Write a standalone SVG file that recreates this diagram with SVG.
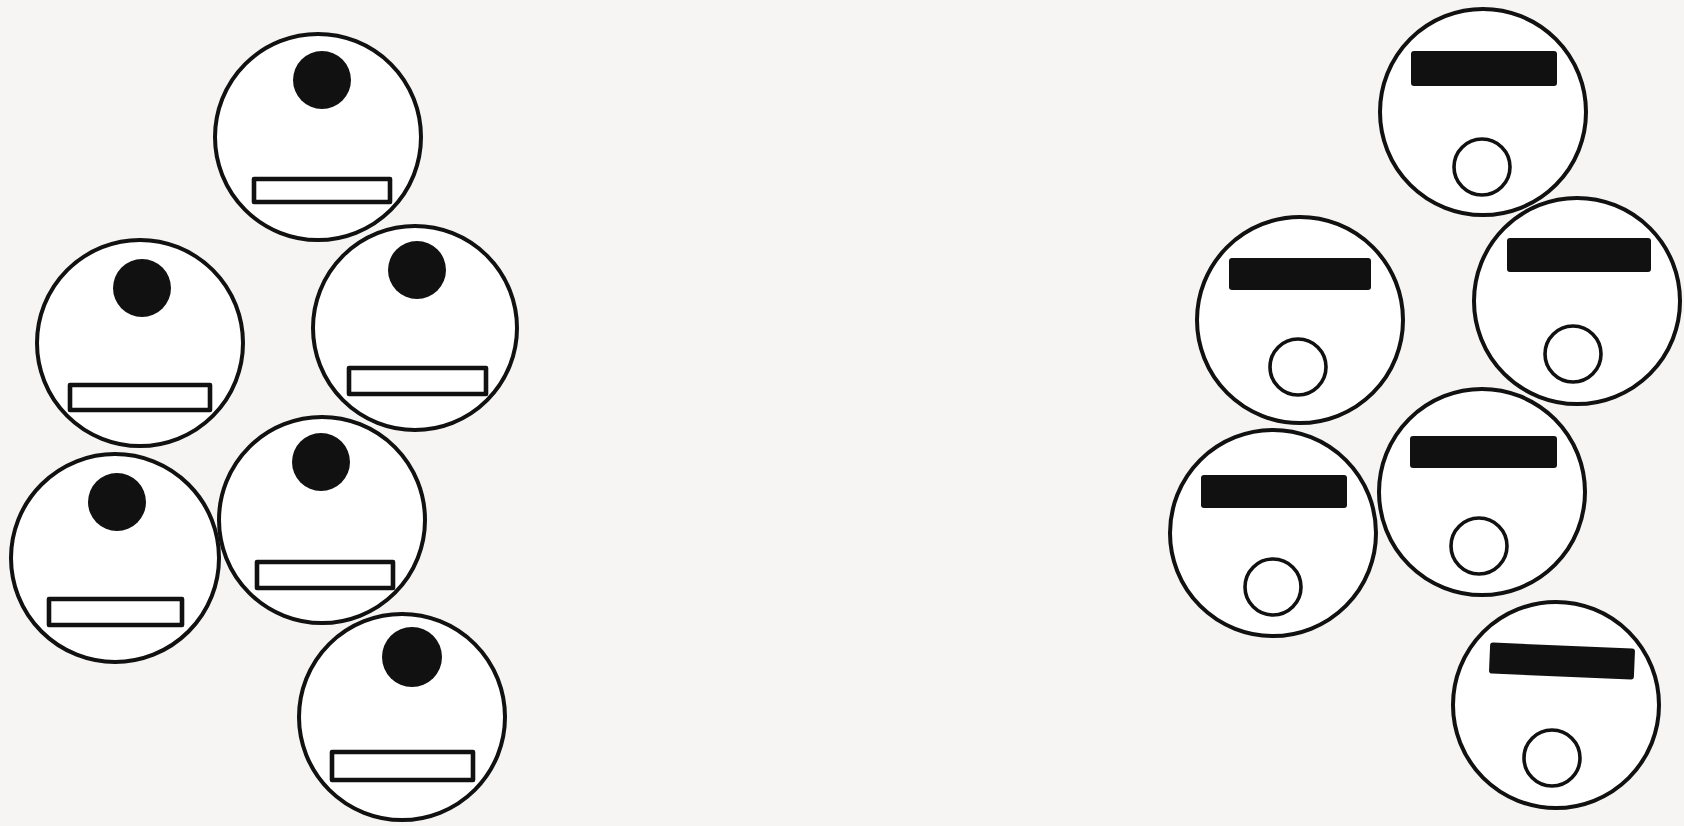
<svg xmlns="http://www.w3.org/2000/svg" width="1684" height="826" viewBox="0 0 1684 826">
<style>
.bg{fill:#f6f5f3}
.cell{fill:#fff;stroke:#111;stroke-width:4}
.dot{fill:#111}
.slot{fill:#fff;stroke:#111;stroke-width:4.6;stroke-linejoin:round}
.bar{fill:#111}
.ring{fill:#fff;stroke:#111;stroke-width:3.6}
</style>
<rect class="bg" x="0" y="0" width="1684" height="826"/>
<g id="left-group">
<g id="L1"><circle class="cell" cx="318" cy="137" r="103"/><circle class="dot" cx="322" cy="80" r="29"/><rect class="slot" x="254" y="179" width="136" height="23"/></g>
<g id="L2"><circle class="cell" cx="140" cy="343" r="103"/><circle class="dot" cx="142" cy="288" r="29"/><rect class="slot" x="70" y="385" width="140" height="25"/></g>
<g id="L3"><circle class="cell" cx="415" cy="328" r="102"/><circle class="dot" cx="417" cy="270" r="29"/><rect class="slot" x="349" y="368" width="137" height="26"/></g>
<g id="L4"><circle class="cell" cx="115" cy="558" r="104"/><circle class="dot" cx="117" cy="502" r="29"/><rect class="slot" x="49" y="599" width="133" height="26"/></g>
<g id="L5"><circle class="cell" cx="322" cy="520" r="103"/><circle class="dot" cx="321" cy="462" r="29"/><rect class="slot" x="257" y="562" width="136" height="26"/></g>
<g id="L6"><circle class="cell" cx="402" cy="717" r="103"/><circle class="dot" cx="412" cy="657" r="30"/><rect class="slot" x="332" y="752" width="141" height="28"/></g>
</g>
<g id="right-group">
<g id="R1"><circle class="cell" cx="1483" cy="112" r="103"/><rect class="bar" x="1411" y="51" width="146" height="35" rx="3"/><circle class="ring" cx="1482" cy="167" r="28"/></g>
<g id="R2"><circle class="cell" cx="1300" cy="320" r="103"/><rect class="bar" x="1229" y="258" width="142" height="32" rx="3"/><circle class="ring" cx="1298" cy="367" r="28"/></g>
<g id="R3"><circle class="cell" cx="1577" cy="301" r="103"/><rect class="bar" x="1507" y="238" width="144" height="34" rx="3"/><circle class="ring" cx="1573" cy="354" r="28"/></g>
<g id="R4"><circle class="cell" cx="1273" cy="533" r="103"/><rect class="bar" x="1201" y="475" width="146" height="33" rx="3"/><circle class="ring" cx="1273" cy="587" r="28"/></g>
<g id="R5"><circle class="cell" cx="1482" cy="492" r="103"/><rect class="bar" x="1410" y="436" width="147" height="32" rx="3"/><circle class="ring" cx="1479" cy="546" r="28"/></g>
<g id="R6"><circle class="cell" cx="1556" cy="705" r="103"/><rect class="bar" x="1489.5" y="645.5" width="145" height="31" rx="3" transform="rotate(2.4 1562 661)"/><circle class="ring" cx="1552" cy="758" r="28"/></g>
</g>
<g id="connectors"/>
</svg>
